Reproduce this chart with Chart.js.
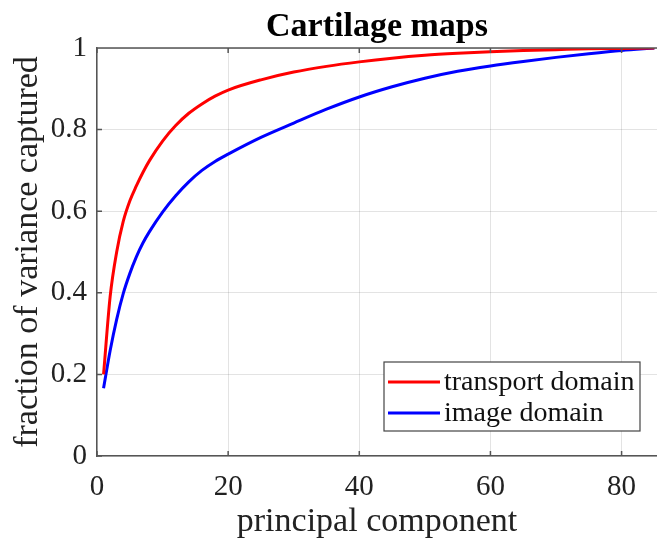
<!DOCTYPE html>
<html>
<head>
<meta charset="utf-8">
<script src="https://cdn.jsdelivr.net/npm/chart.js@4"></script>
<style>
html,body{margin:0;padding:0;background:#fff;}
#wrap{width:657px;height:544px;position:relative;}
</style>
</head>
<body>
<div id="wrap"><canvas id="c" width="657" height="544"></canvas></div>
<script>
const titleText = 'Cartilage maps';
const xLabel = 'principal component';
const yLabel = 'fraction of variance captured';
const xTicks = [0, 20, 40, 60, 80];
const yTicks = [0, 0.2, 0.4, 0.6, 0.8, 1];
const components = [1, 2, 3, 4, 5, 6, 7, 8, 10, 12, 14, 16, 18, 20, 25, 30, 35, 40, 45, 50, 55, 60, 65, 70, 75, 80, 85];
const transportDomain = [0.20, 0.39, 0.50, 0.575, 0.625, 0.662, 0.695, 0.724, 0.772, 0.81, 0.84, 0.863, 0.882, 0.897, 0.922, 0.941, 0.955, 0.966, 0.975, 0.982, 0.987, 0.991, 0.994, 0.996, 0.998, 0.999, 1.0];
const imageDomain = [0.166, 0.258, 0.335, 0.398, 0.447, 0.488, 0.522, 0.55, 0.598, 0.638, 0.672, 0.70, 0.722, 0.74, 0.781, 0.816, 0.85, 0.88, 0.905, 0.926, 0.943, 0.956, 0.967, 0.977, 0.986, 0.994, 1.0];
const seriesNames = ['transport domain', 'image domain'];

const FONT = '"Liberation Serif", "Times New Roman", serif';
const AXIS = '#555555';

const toPts = (ys) => components.map((x, i) => ({x: x, y: ys[i]}));

const frame = {
  id: 'frame',
  afterDraw(chart) {
    const {ctx, chartArea: a, scales: {x, y}} = chart;
    ctx.save();
    ctx.fillStyle = '#000';
    ctx.font = 'bold 34px ' + FONT;
    ctx.textAlign = 'center';
    ctx.textBaseline = 'alphabetic';
    ctx.fillText(titleText, (a.left + a.right) / 2, a.top - 12);

    ctx.strokeStyle = AXIS;
    ctx.lineWidth = 1.5;
    ctx.beginPath();
    ctx.moveTo(a.left, a.top); ctx.lineTo(a.right + 2, a.top);
    xTicks.forEach(v => {
      const px = x.getPixelForValue(v);
      ctx.moveTo(px, a.bottom); ctx.lineTo(px, a.bottom - 5);
      ctx.moveTo(px, a.top); ctx.lineTo(px, a.top + 5);
    });
    yTicks.forEach(v => {
      const py = y.getPixelForValue(v);
      ctx.moveTo(a.left, py); ctx.lineTo(a.left + 5, py);
    });
    ctx.stroke();

    const bw = 256, bh = 69;
    const bx = a.right - 17 - bw, by = a.bottom - 25 - bh;
    ctx.fillStyle = '#fff';
    ctx.fillRect(bx, by, bw, bh);
    ctx.lineWidth = 1.2;
    ctx.strokeStyle = '#444';
    ctx.strokeRect(bx, by, bw, bh);
    ctx.font = '28px ' + FONT;
    ctx.textBaseline = 'middle';
    ctx.textAlign = 'left';
    chart.data.datasets.forEach((ds, i) => {
      const ly = by + 20 + i * 31;
      ctx.strokeStyle = ds.borderColor;
      ctx.lineWidth = 3;
      ctx.beginPath();
      ctx.moveTo(bx + 4, ly); ctx.lineTo(bx + 56, ly);
      ctx.stroke();
      ctx.fillStyle = '#111';
      ctx.fillText(ds.label, bx + 60, ly + 1);
    });
    ctx.restore();
  }
};

new Chart(document.getElementById('c'), {
  type: 'line',
  data: {
    datasets: [
      {label: seriesNames[0], data: toPts(transportDomain), borderColor: '#ff0000', borderWidth: 3, pointRadius: 0, cubicInterpolationMode: 'monotone', fill: false},
      {label: seriesNames[1], data: toPts(imageDomain), borderColor: '#0000ff', borderWidth: 3, pointRadius: 0, cubicInterpolationMode: 'monotone', fill: false}
    ]
  },
  options: {
    responsive: false,
    animation: false,
    layout: {padding: {left: 0, right: 0, top: 48, bottom: 0}},
    plugins: {
      legend: {display: false},
      tooltip: {enabled: false},
      title: {display: false}
    },
    scales: {
      x: {
        type: 'linear', min: 0, max: 85.4,
        afterBuildTicks: (s) => { s.ticks = xTicks.map(v => ({value: v})); },
        afterFit: (s) => { s.height = 88; },
        grid: {color: 'rgba(0,0,0,0.11)', lineWidth: 1, drawTicks: false},
        border: {color: AXIS, width: 1.5},
        ticks: {color: '#222', font: {family: FONT, size: 29}, padding: 14, maxRotation: 0, callback: (v) => String(v)},
        title: {display: true, text: xLabel, color: '#222', font: {family: FONT, size: 34, lineHeight: 1.2}, padding: {top: 0, bottom: 2}}
      },
      y: {
        type: 'linear', min: 0, max: 1,
        afterBuildTicks: (s) => { s.ticks = yTicks.map(v => ({value: v})); },
        afterFit: (s) => { s.width = 97; },
        grid: {color: 'rgba(0,0,0,0.11)', lineWidth: 1, drawTicks: false},
        border: {color: AXIS, width: 1.5},
        ticks: {color: '#222', font: {family: FONT, size: 29}, padding: 10, callback: (v) => String(Math.round(v * 10) / 10)},
        title: {display: true, text: yLabel, color: '#222', font: {family: FONT, size: 34, lineHeight: 1.2}, padding: {top: 8, bottom: 0}}
      }
    }
  },
  plugins: [frame]
});
</script>
</body>
</html>
